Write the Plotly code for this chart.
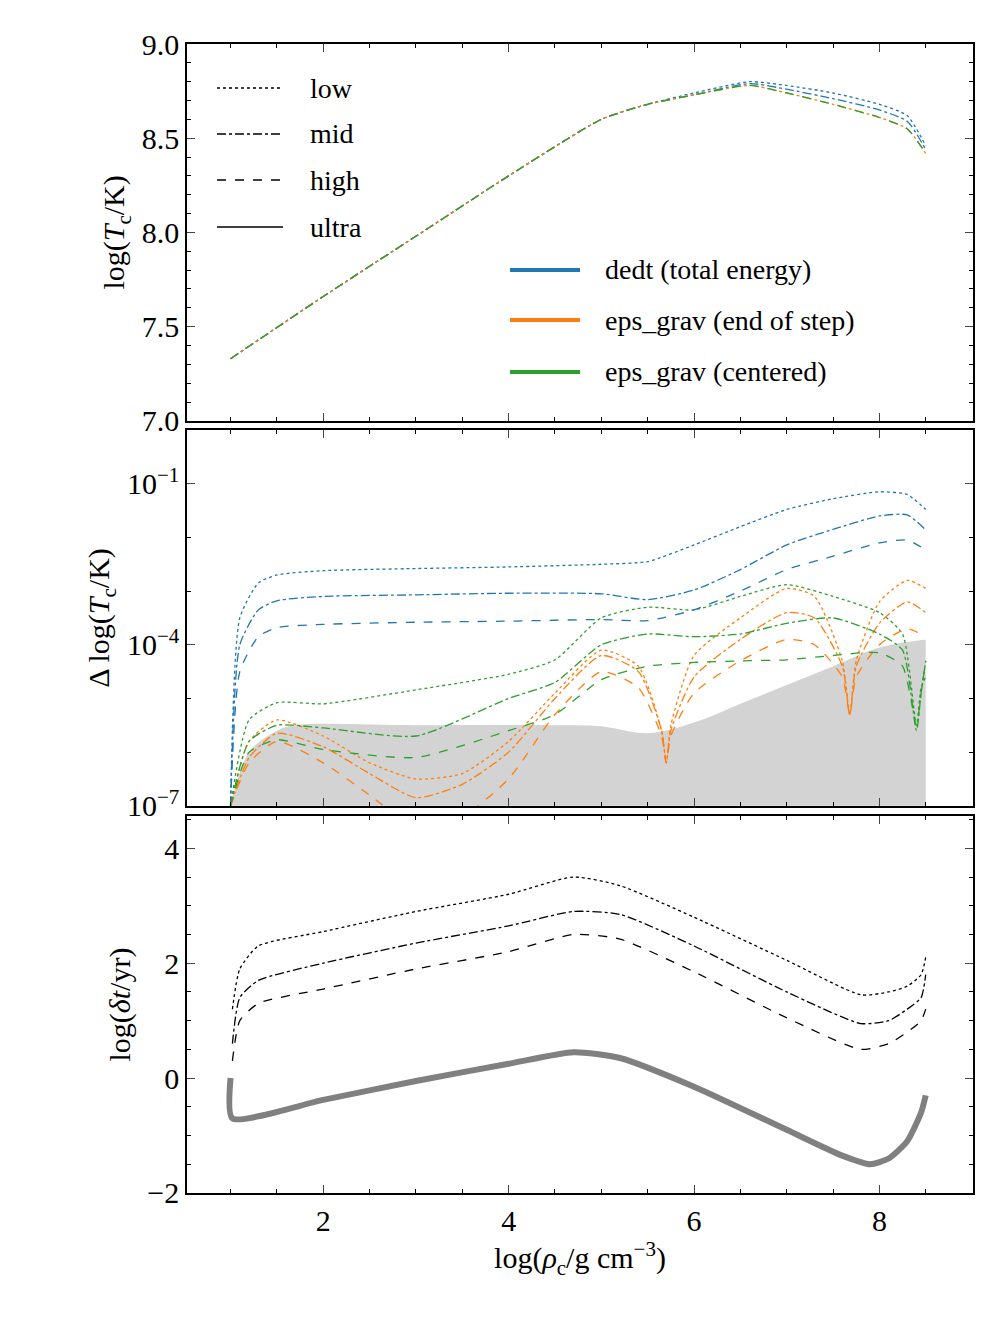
import plotly.graph_objects as go

# ---- data ----
styles = ["dot", "dashdot", "dash"]  # low, mid, high

# top panel: log Tc vs log rho_c
t_x = [1.0, 2.0, 3.0, 4.0, 5.0, 5.5, 6.0, 6.6, 7.0, 7.5, 8.0, 8.3, 8.5]
t_green = [7.33, 7.66, 7.98, 8.30, 8.60, 8.68, 8.73, 8.78, 8.74, 8.68, 8.61, 8.55, 8.42]
t_blue_low = [7.33, 7.66, 7.98, 8.30, 8.60, 8.68, 8.74, 8.80, 8.78, 8.74, 8.68, 8.62, 8.46]
t_blue_mid = [7.33, 7.66, 7.98, 8.30, 8.60, 8.68, 8.73, 8.79, 8.76, 8.71, 8.65, 8.59, 8.44]

# middle panel: log10 of Delta log Tc
d_blue_x = [1.0, 1.1, 1.3, 1.5, 2.0, 3.0, 4.0, 5.0, 5.5, 6.0, 6.5, 7.0, 7.5, 8.0, 8.3, 8.5]
d_blue = {
    "dot":     [-7.0, -3.5, -2.85, -2.7, -2.62, -2.58, -2.55, -2.5, -2.45, -2.14, -1.8, -1.48, -1.28, -1.15, -1.2, -1.48],
    "dashdot": [-7.0, -4.0, -3.35, -3.18, -3.1, -3.07, -3.04, -3.05, -3.16, -2.98, -2.6, -2.14, -1.85, -1.6, -1.58, -1.86],
    "dash":    [-7.0, -4.5, -3.85, -3.68, -3.62, -3.58, -3.56, -3.53, -3.55, -3.35, -3.0, -2.6, -2.35, -2.1, -2.05, -2.23],
}
d_green_x = [1.0, 1.2, 1.5, 2.0, 3.0, 4.0, 4.5, 5.0, 5.5, 6.0, 6.5, 7.0, 7.5, 8.0, 8.25, 8.4, 8.45, 8.5]
d_green = {
    "dot":     [-7.0, -5.4, -5.08, -5.1, -4.84, -4.55, -4.28, -3.5, -3.3, -3.35, -3.1, -2.88, -3.1, -3.4, -3.8, -5.5, -4.8, -4.6],
    "dashdot": [-7.0, -5.8, -5.5, -5.55, -5.7, -5.0, -4.7, -4.0, -3.8, -3.85, -3.8, -3.6, -3.5, -3.8, -4.1, -5.6, -4.9, -4.3],
    "dash":    [-7.0, -6.0, -5.77, -5.95, -6.1, -5.6, -5.3, -4.65, -4.4, -4.33, -4.3, -4.28, -4.2, -4.15, -4.4, -5.5, -4.9, -4.3],
}
d_orange_x = [1.0, 1.2, 1.5, 2.0, 2.5, 3.0, 3.5, 4.0, 4.5, 5.0, 5.4, 5.65, 5.7, 5.75, 6.0, 6.5, 7.0, 7.3, 7.6, 7.68, 7.75, 8.0, 8.3, 8.5]
d_orange = {
    "dot":     [-7.0, -5.8, -5.4, -5.7, -6.2, -6.5, -6.4, -5.8, -4.9, -4.1, -4.4, -5.6, -6.2, -5.5, -4.2, -3.5, -2.95, -3.1, -4.3, -5.3, -4.3, -3.2, -2.8, -2.95],
    "dashdot": [-7.0, -6.1, -5.65, -5.9, -6.4, -6.85, -6.6, -6.0, -5.0, -4.2, -4.5, -5.6, -6.2, -5.6, -4.6, -3.9, -3.4, -3.5, -4.4, -5.3, -4.4, -3.6, -3.2, -3.4],
    "dash":    [-7.0, -6.2, -5.8, -6.2, -6.8, -7.4, -7.2, -6.5, -5.3, -4.5, -4.8, -5.7, -6.2, -5.7, -4.9, -4.3, -3.9, -4.0, -4.6, -5.3, -4.6, -4.0, -3.7, -3.85],
}
band_x = [1.0, 1.2, 1.5, 1.7, 3.0, 4.5, 5.0, 5.5, 6.0, 6.5, 7.0, 7.5, 8.0, 8.5]
band = [-7.0, -6.0, -5.6, -5.5, -5.5, -5.5, -5.52, -5.65, -5.45, -5.1, -4.75, -4.4, -4.05, -3.9]

# bottom panel: log timestep
s_x = [1.02, 1.1, 1.3, 2.0, 3.0, 4.0, 4.7, 5.2, 6.0, 7.0, 7.8, 8.1, 8.3, 8.45, 8.5]
s_black = {
    "dot":     [1.2, 1.9, 2.3, 2.55, 2.9, 3.2, 3.5, 3.35, 2.8, 2.05, 1.45, 1.5, 1.6, 1.8, 2.1],
    "dashdot": [0.6, 1.4, 1.7, 2.0, 2.35, 2.65, 2.9, 2.85, 2.3, 1.5, 0.95, 1.0, 1.2, 1.4, 1.8],
    "dash":    [0.3, 1.0, 1.3, 1.55, 1.9, 2.2, 2.5, 2.42, 1.85, 1.05, 0.5, 0.6, 0.8, 1.0, 1.2],
}
g_x = [1.0, 1.02, 2.0, 3.0, 4.0, 4.7, 5.2, 6.0, 7.0, 7.6, 7.9, 8.1, 8.3, 8.45, 8.5]
g_dt = [0.0, -0.7, -0.38, -0.05, 0.25, 0.45, 0.35, -0.15, -0.9, -1.35, -1.5, -1.4, -1.1, -0.6, -0.3]

BLUE, ORANGE, GREEN = "#1f77b4", "#ff7f0e", "#2ca02c"
FONT = "Liberation Serif"

fig = go.Figure()

def add(x, y, color, dash, ax, width=1.3, xa="x"):
    fig.add_trace(go.Scatter(x=x, y=y, mode="lines",
                             line=dict(color=color, dash=dash, width=width, shape="spline", smoothing=0.6),
                             xaxis=xa, yaxis=ax, showlegend=False, hoverinfo="skip"))

# top
add(t_x, t_blue_low, BLUE, "dot", "y", xa="x2")
add(t_x, t_blue_mid, BLUE, "dashdot", "y", xa="x2")
add(t_x, t_green, ORANGE, "dashdot", "y", xa="x2")
add(t_x, t_green, GREEN, "dash", "y", xa="x2")

# middle: grey band
fig.add_trace(go.Scatter(x=band_x, y=[10 ** -8] * len(band_x), mode="lines", line=dict(width=0),
                         xaxis="x3", yaxis="y2", showlegend=False, hoverinfo="skip"))
fig.add_trace(go.Scatter(x=band_x, y=[10 ** v for v in band], mode="lines", line=dict(width=0, shape="spline"),
                         fill="tonexty", fillcolor="lightgray", xaxis="x3", yaxis="y2", showlegend=False, hoverinfo="skip"))
for d in styles:
    add(d_blue_x, [10 ** v for v in d_blue[d]], BLUE, d, "y2", xa="x3")
    add(d_orange_x, [10 ** v for v in d_orange[d]], ORANGE, d, "y2", xa="x3")
    add(d_green_x, [10 ** v for v in d_green[d]], GREEN, d, "y2", xa="x3")

# bottom
add(g_x, g_dt, "gray", "solid", "y3", width=6)
for d in styles:
    add(s_x, s_black[d], "black", d, "y3")

TICK = 30
axis_common = dict(showline=True, linecolor="black", linewidth=1.5, mirror="allticks", ticks="inside",
                   ticklen=8, tickwidth=1.2, showgrid=False, zeroline=False,
                   tickfont=dict(family=FONT, size=TICK, color="black"))
minor = dict(ticks="inside", ticklen=4, tickcolor="black", tickwidth=1, showgrid=False)
xr = [0.53, 9.01]

fig.update_layout(
    width=1002, height=1335, paper_bgcolor="white", plot_bgcolor="white",
    margin=dict(l=179, r=37, t=36, b=150),
    font=dict(family=FONT, color="black"),
    xaxis=dict(**axis_common, range=xr, anchor="y3", tickvals=[2, 4, 6, 8],
               minor=dict(**minor, dtick=0.5),
               title=dict(text="log(<i>ρ</i><sub>c</sub>/g cm<sup>−3</sup>)", font=dict(size=30), standoff=8)),
    xaxis2=dict(**axis_common, range=xr, anchor="y", showticklabels=False, tickvals=[2, 4, 6, 8],
                minor=dict(**minor, dtick=0.5)),
    xaxis3=dict(**axis_common, range=xr, anchor="y2", showticklabels=False, tickvals=[2, 4, 6, 8],
                minor=dict(**minor, dtick=0.5)),
    yaxis=dict(**axis_common, anchor="x2", domain=[0.672, 1.0], range=[7.0, 9.0], dtick=0.5, tickformat=".1f",
               minor=dict(**minor, dtick=0.1),
               title=dict(text="log(<i>T</i><sub>c</sub>/K)", font=dict(size=30), standoff=8)),
    yaxis2=dict(**axis_common, anchor="x3", domain=[0.337, 0.664], type="log", range=[-7, 0],
                tickvals=[1e-7, 1e-4, 1e-1], ticktext=["10<sup>−7</sup>", "10<sup>−4</sup>", "10<sup>−1</sup>"],
                minor=dict(**minor, tickvals=[10 ** k for k in range(-7, 1)]),
                title=dict(text="Δ log(<i>T</i><sub>c</sub>/K)", font=dict(size=30), standoff=8)),
    yaxis3=dict(**axis_common, anchor="x", domain=[0.0, 0.328], range=[-2, 4.56], tickvals=[-2, 0, 2, 4],
                ticktext=["−2", "0", "2", "4"], minor=dict(**minor, dtick=0.5),
                title=dict(text="log(<i>δt</i>/yr)", font=dict(size=30), standoff=8)),
)

# legends (drawn as paper shapes + text)
def px(x): return (x - 187) / 786
def py(y): return (1193 - y) / 1149
for y, d, lab in [(88, "dot", "low"), (134, "dashdot", "mid"), (180, "dash", "high"), (227, "solid", "ultra")]:
    fig.add_shape(type="line", xref="paper", yref="paper", x0=px(217), x1=px(283), y0=py(y), y1=py(y),
                  line=dict(color="black", dash=d, width=1.3))
    fig.add_annotation(xref="paper", yref="paper", x=px(308), y=py(y), text=lab, showarrow=False,
                       xanchor="left", yanchor="middle", font=dict(family=FONT, size=28))
for y, c, lab in [(270, BLUE, "dedt (total energy)"), (320, ORANGE, "eps_grav (end of step)"), (372, GREEN, "eps_grav (centered)")]:
    fig.add_shape(type="line", xref="paper", yref="paper", x0=px(510), x1=px(580), y0=py(y), y1=py(y),
                  line=dict(color=c, width=4))
    fig.add_annotation(xref="paper", yref="paper", x=px(603), y=py(y), text=lab, showarrow=False,
                       xanchor="left", yanchor="middle", font=dict(family=FONT, size=28))

fig.write_html("out.html")
